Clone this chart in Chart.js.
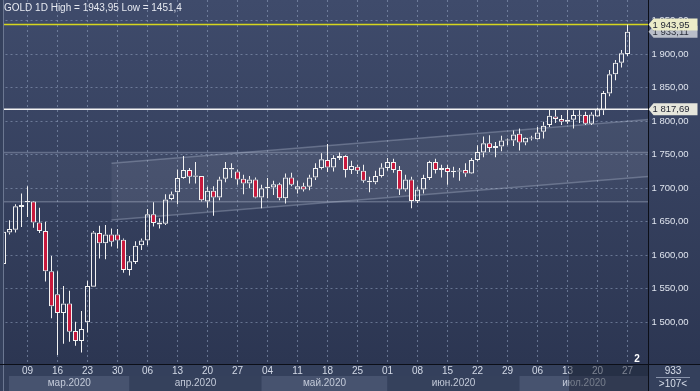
<!DOCTYPE html>
<html><head><meta charset="utf-8">
<script src="https://cdn.jsdelivr.net/npm/chart.js@4.4.1/dist/chart.umd.min.js"></script>
<style>html,body{margin:0;padding:0;background:#2f3b57;overflow:hidden}canvas{display:block}</style>
</head><body>
<canvas id="c" width="700" height="391" style="width:700px;height:391px"></canvas>
<script>
// ---- data ----
const dates = ['03-03','03-04','03-05','03-06','03-09','03-10','03-11','03-12','03-13','03-16','03-17','03-18','03-19','03-20','03-23','03-24','03-25','03-26','03-27','03-30','03-31',
'04-01','04-02','04-03','04-06','04-07','04-08','04-09','04-10','04-13','04-14','04-15','04-16','04-17','04-20','04-21','04-22','04-23','04-24','04-27','04-28','04-29','04-30',
'05-01','05-04','05-05','05-06','05-07','05-08','05-11','05-12','05-13','05-14','05-15','05-18','05-19','05-20','05-21','05-22','05-25','05-26','05-27','05-28','05-29',
'06-01','06-02','06-03','06-04','06-05','06-08','06-09','06-10','06-11','06-12','06-15','06-16','06-17','06-18','06-19','06-22','06-23','06-24','06-25','06-26','06-29','06-30',
'07-01','07-02','07-03','07-06','07-07','07-08','07-09','07-10','07-13','07-14','07-15','07-16','07-17','07-20','07-21','07-22','07-23','07-24','07-27','07-28','07-29','07-30'];
const opens  = [1587,1634,1638,1672,1679,1680,1649,1636,1576,1542,1514,1528,1487,1472,1500,1553,1633,1618,1631,1631,1623,
1578,1590,1615,1622,1661,1646,1647,1684,1694,1715,1727,1717,1718,1680,1696,1686,1714,1728,1725,1714,1707,1713,
1686,1700,1701,1706,1685,1716,1698,1703,1702,1716,1730,1742,1731,1745,1748,1727,1732,1726,1709,1709,1718,
1730,1739,1727,1698,1713,1681,1698,1715,1739,1727,1730,1724,1725,1727,1722,1742,1753,1767,1760,1762,1771,1771,
1781,1768,1774,1773,1784,1794,1807,1803,1799,1802,1808,1809,1796,1807,1816,1841,1870,1887,1900];
const highs  = [1645,1652,1676,1692,1703,1681,1671,1650,1599,1576,1554,1547,1501,1517,1562,1636,1644,1645,1640,1639,1625,
1599,1621,1625,1669,1679,1655,1691,1695,1728,1748,1730,1739,1718,1702,1703,1717,1739,1737,1728,1720,1718,1716,
1705,1715,1711,1708,1722,1723,1711,1708,1720,1737,1752,1766,1749,1753,1749,1741,1735,1735,1717,1726,1737,
1745,1744,1733,1720,1717,1702,1720,1741,1744,1735,1735,1732,1730,1737,1745,1764,1777,1779,1769,1778,1774,1786,
1789,1776,1778,1791,1799,1817,1817,1809,1818,1816,1816,1814,1813,1820,1845,1876,1891,1906,1943.95];
const lows   = [1583,1631,1634,1642,1657,1641,1633,1561,1506,1451.4,1468,1471,1465,1455,1485,1553,1595,1594,1613,1610,1574,
1570,1587,1608,1615,1643,1640,1645,1682,1676,1714,1707,1707,1680,1671,1659,1682,1709,1715,1705,1691,1700,1685,
1670,1685,1690,1682,1677,1703,1692,1695,1697,1712,1728,1724,1725,1742,1716,1721,1721,1708,1694,1706,1716,
1726,1723,1690,1695,1670,1678,1692,1712,1722,1716,1705,1716,1711,1717,1721,1740,1746,1754,1746,1755,1764,1763,
1756,1764,1771,1772,1774,1791,1797,1794,1796,1789,1797,1794,1794,1806,1809,1837,1861,1880,1897];
const closes = [1635,1639,1673,1675,1681,1649,1636,1576,1524,1514,1528,1486,1472,1490,1554,1634,1618,1631,1620,1622,1578,
1591,1614,1622,1661,1648,1649,1683,1691,1715,1727,1717,1719,1682,1696,1686,1713,1730,1730,1713,1707,1713,1686,
1700,1702,1706,1685,1716,1705,1703,1698,1716,1730,1743,1731,1745,1748,1727,1733,1726,1711,1711,1718,1731,
1739,1727,1698,1713,1681,1698,1715,1739,1727,1730,1724,1726,1726.5,1722,1742,1754,1767,1760,1763,1771,1772,1780,
1768,1775,1775,1783,1793,1808,1803,1799,1802,1809,1809,1796,1810,1817.7,1842,1870,1887,1901,1933.11];
const yTicks = [1500,1550,1600,1650,1700,1750,1800,1850,1900,1950];
const monthNames = {'03':'мар.2020','04':'апр.2020','05':'май.2020','06':'июн.2020','07':'июл.2020'};
const levelYellow = 1943.95, levelWhite = 1817.69, lastClose = 1933.11;
const bandLevels = [1753.2, 1679.8];
const channelUpper = [[18, 1737], [107.5, 1802.4]];
const channelLower = [[18, 1652.5], [107.5, 1717.4]];
const title = 'GOLD 1D High = 1943,95 Low = 1451,4';
const cornerTop = '933', cornerBottom = '>107<', barMark = '2';

// ---- helpers ----
const FONT = 'Liberation Sans, Arial, sans-serif';
const isMonday = i => new Date('2020-' + dates[i] + 'T00:00:00Z').getUTCDay() === 1;
const fmt = v => { const s = v.toFixed(2).replace('.', ','); return s[0] + ' ' + s.slice(1); };
const RED = '#c8193d', WHITE = '#f2f2f2', GRID = 'rgba(150,165,195,0.55)';

const bodyData = opens.map((o, i) => [o, closes[i]]);
const upWick = opens.map((o, i) => [Math.max(o, closes[i]), highs[i]]);
const lowWick = opens.map((o, i) => [lows[i], Math.min(o, closes[i])]);

const noPad = s => { s.paddingTop = 0; s.paddingBottom = 0; s.paddingLeft = 0; s.paddingRight = 0; };

const decor = {
  id: 'decor',
  beforeDraw(chart) {
    const c = chart.ctx, a = chart.chartArea, W = chart.width, H = chart.height;
    const g = c.createLinearGradient(0, 0, 0, a.bottom);
    g.addColorStop(0, '#3f4b6b'); g.addColorStop(1, '#2c3652');
    c.fillStyle = g; c.fillRect(0, 0, W, a.bottom);
    c.fillStyle = '#34405c'; c.fillRect(0, a.bottom, W, H - a.bottom);
    const xs = chart.scales.x;
    let starts = [];
    dates.forEach((d, i) => { if (i === 0 || d.slice(0, 2) !== dates[i - 1].slice(0, 2)) starts.push(i); });
    starts.forEach((s, k) => {
      const x0 = Math.max(9, xs.getPixelForValue(s)), x1 = k + 1 < starts.length ? xs.getPixelForValue(starts[k + 1]) : a.right;
      c.fillStyle = k % 2 === 0 ? '#47536f' : '#35415c';
      c.fillRect(x0, 376, x1 - x0, H - 376);
      c.fillStyle = '#c3cad9'; c.font = '10px ' + FONT; c.textAlign = 'center'; c.textBaseline = 'middle';
      c.fillText(monthNames[dates[s].slice(0, 2)], (x0 + x1) / 2, 383);
    });
  },
  beforeDatasetsDraw(chart) {
    const c = chart.ctx, a = chart.chartArea, xs = chart.scales.x, ys = chart.scales.y;
    c.save();
    c.beginPath(); c.rect(a.left, a.top, a.right - a.left, a.bottom - a.top); c.clip();
    const b0 = ys.getPixelForValue(bandLevels[0]), b1 = ys.getPixelForValue(bandLevels[1]);
    c.fillStyle = 'rgba(255,255,255,0.04)'; c.fillRect(a.left, b0, a.right - a.left, b1 - b0);
    c.strokeStyle = 'rgba(200,210,230,0.3)'; c.lineWidth = 1.5;
    [b0, b1].forEach(y => { c.beginPath(); c.moveTo(a.left, y); c.lineTo(a.right, y); c.stroke(); });
    const P = p => [xs.getPixelForValue(p[0]), ys.getPixelForValue(p[1])];
    const u0 = P(channelUpper[0]), u1 = P(channelUpper[1]), l0 = P(channelLower[0]), l1 = P(channelLower[1]);
    c.fillStyle = 'rgba(255,255,255,0.06)';
    c.beginPath(); c.moveTo(...u0); c.lineTo(...u1); c.lineTo(...l1); c.lineTo(...l0); c.closePath(); c.fill();
    c.strokeStyle = 'rgba(200,210,230,0.3)'; c.lineWidth = 1.5;
    [[u0, u1], [l0, l1]].forEach(([p, q]) => { c.beginPath(); c.moveTo(...p); c.lineTo(...q); c.stroke(); });
    const yw = ys.getPixelForValue(levelWhite), yy = ys.getPixelForValue(levelYellow);
    c.lineWidth = 1.5;
    c.strokeStyle = '#f4f4f4'; c.beginPath(); c.moveTo(a.left, yw); c.lineTo(a.right, yw); c.stroke();
    c.strokeStyle = '#d6d61e'; c.beginPath(); c.moveTo(a.left, yy); c.lineTo(a.right, yy); c.stroke();
    c.restore();
  },
  afterDraw(chart) {
    const c = chart.ctx, a = chart.chartArea, ys = chart.scales.y, W = chart.width, H = chart.height;
    c.fillStyle = '#35415d'; c.fillRect(0, 0, 3, H);
    c.fillStyle = '#6b7791'; c.fillRect(3, 0, 1, H);
    c.fillStyle = 'rgba(22,28,44,0.45)'; c.fillRect(569, a.bottom, a.right - 569, H - a.bottom);
    c.fillStyle = '#0c0f18';
    c.fillRect(a.right - 0.5, 0, 1, H);
    c.fillRect(0, a.bottom, W, 1);
    c.font = '10px ' + FONT; c.textAlign = 'left'; c.textBaseline = 'middle'; c.fillStyle = '#e6e9f0';
    c.fillText(title, 4, 8);
    const tag = (v, bg, fg) => {
      const y = ys.getPixelForValue(v), x = a.right;
      c.fillStyle = bg; c.beginPath();
      c.moveTo(x, y); c.lineTo(x + 5, y - 6); c.lineTo(x + 49, y - 6); c.lineTo(x + 49, y + 6); c.lineTo(x + 5, y + 6); c.closePath(); c.fill();
      c.fillStyle = fg; c.font = '9.5px ' + FONT; c.textAlign = 'left'; c.textBaseline = 'middle';
      c.fillText(fmt(v), x + 4, y + 0.5);
    };
    tag(lastClose, '#b9bec9', '#2a2f3a');
    tag(levelYellow, '#ececc8', '#1e2230');
    tag(levelWhite, '#e6e6dc', '#1e2230');
    c.fillStyle = '#d8deea'; c.font = '10px ' + FONT; c.textAlign = 'center'; c.textBaseline = 'middle';
    c.fillText(cornerTop, 673, 371);
    c.fillText(cornerBottom, 673, 384);
    c.fillStyle = '#8893aa'; c.fillRect(656, 377, 34, 1);
    c.fillStyle = '#ffffff'; c.font = 'bold 10px ' + FONT; c.textAlign = 'center';
    c.fillText(barMark, 637, 359);
  }
};

new Chart(document.getElementById('c'), {
  type: 'bar',
  data: {
    labels: dates,
    datasets: [
      { data: lowWick, backgroundColor: WHITE, borderWidth: 0, barThickness: 1, grouped: false, inflateAmount: 0 },
      { data: upWick, backgroundColor: WHITE, borderWidth: 0, barThickness: 1, grouped: false, inflateAmount: 0 },
      { data: bodyData, grouped: false, barThickness: 5, borderWidth: 1, borderSkipped: false, minBarLength: 1, inflateAmount: 0,
        borderColor: WHITE,
        backgroundColor: ctx => closes[ctx.dataIndex] >= opens[ctx.dataIndex] ? 'rgba(0,0,0,0)' : RED }
    ]
  },
  options: {
    responsive: false, animation: false, devicePixelRatio: 1,
    layout: { padding: { left: 0.5, right: 0, top: 0, bottom: 0 } },
    plugins: { legend: { display: false }, tooltip: { enabled: false } },
    scales: {
      x: {
        type: 'category', offset: true,
        afterFit: s => { s.height = 27; noPad(s); },
        grid: { offset: false, drawTicks: false, color: ctx => (ctx.index !== undefined && isMonday(ctx.index)) ? GRID : 'rgba(0,0,0,0)', lineWidth: 1 },
        border: { display: false, dash: [2, 3] },
        ticks: { autoSkip: false, maxRotation: 0, minRotation: 0, padding: 1, color: '#d3d9e6', font: { family: FONT, size: 10 },
          callback: (v, i) => isMonday(i) ? dates[i].slice(3) : '' }
      },
      y: {
        type: 'linear', position: 'right', min: 1437.9, max: 1980.5,
        afterFit: s => { s.width = 51.5; noPad(s); },
        afterBuildTicks: s => { s.ticks = yTicks.map(v => ({ value: v })); },
        grid: { drawTicks: false, color: GRID, lineWidth: 1 },
        border: { display: false, dash: [2, 3] },
        ticks: { padding: 3, color: '#dfe4ee', font: { family: FONT, size: 9.5 }, callback: v => fmt(v) }
      }
    }
  },
  plugins: [decor]
});
</script>
</body></html>
